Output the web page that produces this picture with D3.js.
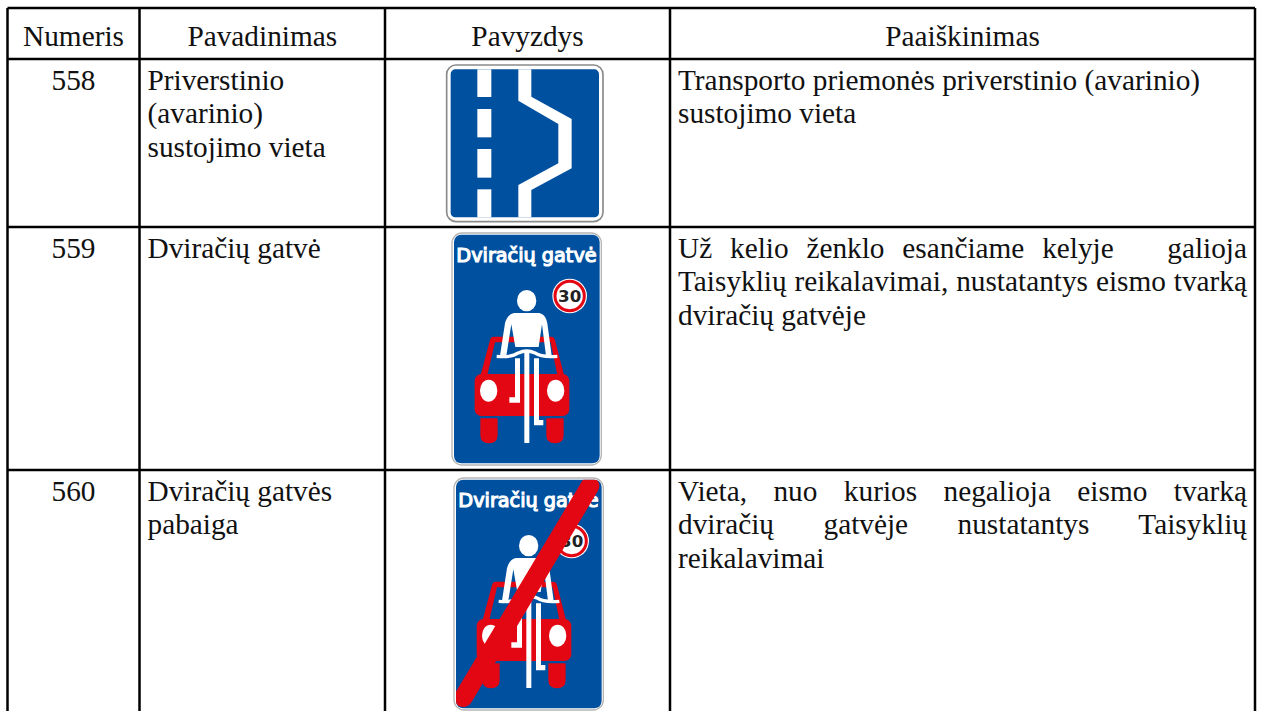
<!DOCTYPE html>
<html>
<head>
<meta charset="utf-8">
<script src="https://cdn.jsdelivr.net/npm/d3@7"></script>
<style>
  html, body { margin: 0; padding: 0; background: #fff; overflow: hidden; }
  text { font-family: "Liberation Serif", serif; fill: #111; }
</style>
</head>
<body>
<div class="chart"></div>
<script>
// table content
var headers = ["Numeris", "Pavadinimas", "Pavyzdys", "Paaiškinimas"];
var numbers = ["558", "559", "560"];
var names = [
  ["Priverstinio", "(avarinio)", "sustojimo vieta"],
  ["Dviračių gatvė"],
  ["Dviračių gatvės", "pabaiga"]
];
var explanations = [
  ["Transporto priemonės priverstinio (avarinio)", "sustojimo vieta"],
  ["Už kelio ženklo esančiame kelyje   galioja", "Taisyklių reikalavimai, nustatantys eismo tvarką", "dviračių gatvėje"],
  ["Vieta, nuo kurios negalioja eismo tvarką", "dviračių gatvėje nustatantys Taisyklių", "reikalavimai"]
];
// which explanation lines are justified in the original
var justified = [
  [false, false],
  [true, true, false],
  [true, true, false]
];

var svgWidth = 1264;
var svgHeight = 711;

// grid layout
var colEdges = [7.5, 139.5, 385, 670, 1255];
var rowEdges = [8, 59, 227, 470];
var fontSize = 29.3;
var lineHeight = 33.3;

var svg = d3.select(".chart")
  .append("svg")
  .attr("width", svgWidth)
  .attr("height", svgHeight)
  .style("display", "block");

var blue = "#0050a0";
var red = "#e30613";

// grid lines
var gridGroup = svg.append("g").attr("stroke", "#000").attr("stroke-width", 2.5);
gridGroup.selectAll("line.col").data(colEdges).enter().append("line")
  .attr("class", "col")
  .attr("x1", d => d).attr("x2", d => d)
  .attr("y1", rowEdges[0]).attr("y2", svgHeight);
gridGroup.selectAll("line.row").data(rowEdges).enter().append("line")
  .attr("class", "row")
  .attr("x1", colEdges[0]).attr("x2", colEdges[4])
  .attr("y1", d => d).attr("y2", d => d);

// header row
svg.selectAll("text.head").data(headers).enter().append("text")
  .attr("class", "head")
  .attr("x", (d, i) => (colEdges[i] + colEdges[i + 1]) / 2)
  .attr("y", 46)
  .attr("text-anchor", "middle")
  .attr("font-size", fontSize)
  .text(d => d);

// numbers
svg.selectAll("text.num").data(numbers).enter().append("text")
  .attr("class", "num")
  .attr("x", (colEdges[0] + colEdges[1]) / 2)
  .attr("y", (d, i) => rowEdges[i + 1] + 31)
  .attr("text-anchor", "middle")
  .attr("font-size", fontSize)
  .text(d => d);

// names, left aligned lines
names.forEach(function (lines, r) {
  svg.append("g").selectAll("text").data(lines).enter().append("text")
    .attr("x", colEdges[1] + 8)
    .attr("y", (d, i) => rowEdges[r + 1] + 31 + i * lineHeight)
    .attr("font-size", fontSize)
    .text(d => d);
});

// explanations, some lines stretched to the column width
explanations.forEach(function (lines, r) {
  svg.append("g").selectAll("text").data(lines).enter().append("text")
    .attr("x", colEdges[3] + 8)
    .attr("y", (d, i) => rowEdges[r + 1] + 31 + i * lineHeight)
    .attr("font-size", fontSize)
    .style("white-space", "pre")
    .text(d => d)
    .each(function (d, i) {
      if (!justified[r][i]) return;
      var spaces = d.split(" ").length - 1;
      var extra = (colEdges[4] - 8 - colEdges[3] - 8 - this.getComputedTextLength()) / spaces;
      d3.select(this).attr("word-spacing", extra);
    });
});

// sign 558, drawn in a 3x local grid
var sign558 = svg.append("g").attr("transform", "translate(430,50) scale(0.3333)");
sign558.append("rect")
  .attr("x", 50).attr("y", 45).attr("width", 469).attr("height", 470).attr("rx", 28)
  .attr("fill", "#fff").attr("stroke", "#8a8a8a").attr("stroke-width", 5);
sign558.append("rect")
  .attr("x", 62).attr("y", 58).attr("width", 445).attr("height", 444).attr("rx", 14)
  .attr("fill", blue);
var dashes = [[58, 141], [177, 262], [297, 383], [418, 502]];
sign558.selectAll("rect.dash").data(dashes).enter().append("rect")
  .attr("class", "dash")
  .attr("x", 142).attr("width", 42)
  .attr("y", d => d[0]).attr("height", d => d[1] - d[0])
  .attr("fill", "#fff");
sign558.append("path")
  .attr("d", "M265,58H304V140L425,207V355L304,420V502H265V405L385,340V222L265,152Z")
  .attr("fill", "#fff");

// signs 559 and 560 share the same picture
function bikeSign(x, y, crossed, id) {
  var g = svg.append("g").attr("transform", `translate(${x},${y}) scale(0.3333)`);
  g.append("rect")
    .attr("x", 36).attr("y", 24).attr("width", 448).attr("height", 696).attr("rx", 30)
    .attr("fill", "#fff").attr("stroke", "#b5b5b5").attr("stroke-width", 4);
  g.append("clipPath").attr("id", id).append("rect")
    .attr("x", 42).attr("y", 29).attr("width", 437).attr("height", 686).attr("rx", 22);
  g.append("rect")
    .attr("x", 42).attr("y", 29).attr("width", 437).attr("height", 686).attr("rx", 22)
    .attr("fill", blue);
  g.append("text")
    .attr("x", 49).attr("y", 110)
    .attr("textLength", 421)
    .attr("lengthAdjust", "spacingAndGlyphs")
    .style("font-family", "'DejaVu Sans', sans-serif")
    .style("fill", "#fff")
    .style("stroke", "#fff")
    .style("stroke-width", 3.5)
    .attr("font-size", 58)
    .text("Dviračių gatvė");

  // speed limit disc
  g.append("circle").attr("cx", 389).attr("cy", 213).attr("r", 52).attr("fill", "#fff");
  g.append("circle").attr("cx", 389).attr("cy", 213).attr("r", 44)
    .attr("fill", "#fff").attr("stroke", red).attr("stroke-width", 9);
  g.append("text")
    .attr("x", 389).attr("y", 232).attr("text-anchor", "middle")
    .style("font-family", "'DejaVu Sans', sans-serif")
    .style("font-weight", "bold")
    .style("fill", "#222")
    .attr("font-size", 50)
    .text("30");

  // car
  g.append("path")
    .attr("d", "M122,450L150,345Q152,335 162,335H333Q343,335 345,345L372,450H352L332,352H165L142,450Z")
    .attr("fill", red);
  g.append("rect").attr("x", 104).attr("y", 447).attr("width", 284).attr("height", 126).attr("rx", 20).attr("fill", red);
  g.append("path").attr("d", "M121,580H173V630Q173,655 147,655Q121,655 121,630Z").attr("fill", red);
  g.append("path").attr("d", "M319,580H371V630Q371,655 345,655Q319,655 319,630Z").attr("fill", red);
  g.append("ellipse").attr("cx", 146).attr("cy", 497).attr("rx", 26).attr("ry", 33).attr("fill", "#fff");
  g.append("ellipse").attr("cx", 347).attr("cy", 497).attr("rx", 26).attr("ry", 33).attr("fill", "#fff");

  // rider
  g.append("ellipse").attr("cx", 260).attr("cy", 227).attr("rx", 29).attr("ry", 32).attr("fill", "#fff");
  g.append("path")
    .attr("d", "M222,264H298Q318,268 322,295L335,392H318L306,298L296,366H226L214,298L199,392H180L195,295Q202,268 222,264Z")
    .attr("fill", "#fff");
  g.append("path")
    .attr("d", "M170,394Q215,398 235,384Q260,372 285,384Q305,398 352,394")
    .attr("fill", "none").attr("stroke", "#fff").attr("stroke-width", 10);
  // bike frame and legs
  g.append("rect").attr("x", 253).attr("y", 376).attr("width", 15).attr("height", 278).attr("fill", "#fff");
  g.append("path").attr("d", "M225,400H240V533H208V517H225Z").attr("fill", "#fff");
  g.append("path").attr("d", "M282,400H297V585H310V601H282Z").attr("fill", "#fff");

  if (crossed) {
    g.append("line")
      .attr("clip-path", `url(#${id})`)
      .attr("x1", 64).attr("y1", 683).attr("x2", 444).attr("y2", 48)
      .attr("stroke", red).attr("stroke-width", 56).attr("stroke-linecap", "round");
  }
}

bikeSign(440, 225, false, "clip559");
bikeSign(442, 470, true, "clip560");
</script>
</body>
</html>
